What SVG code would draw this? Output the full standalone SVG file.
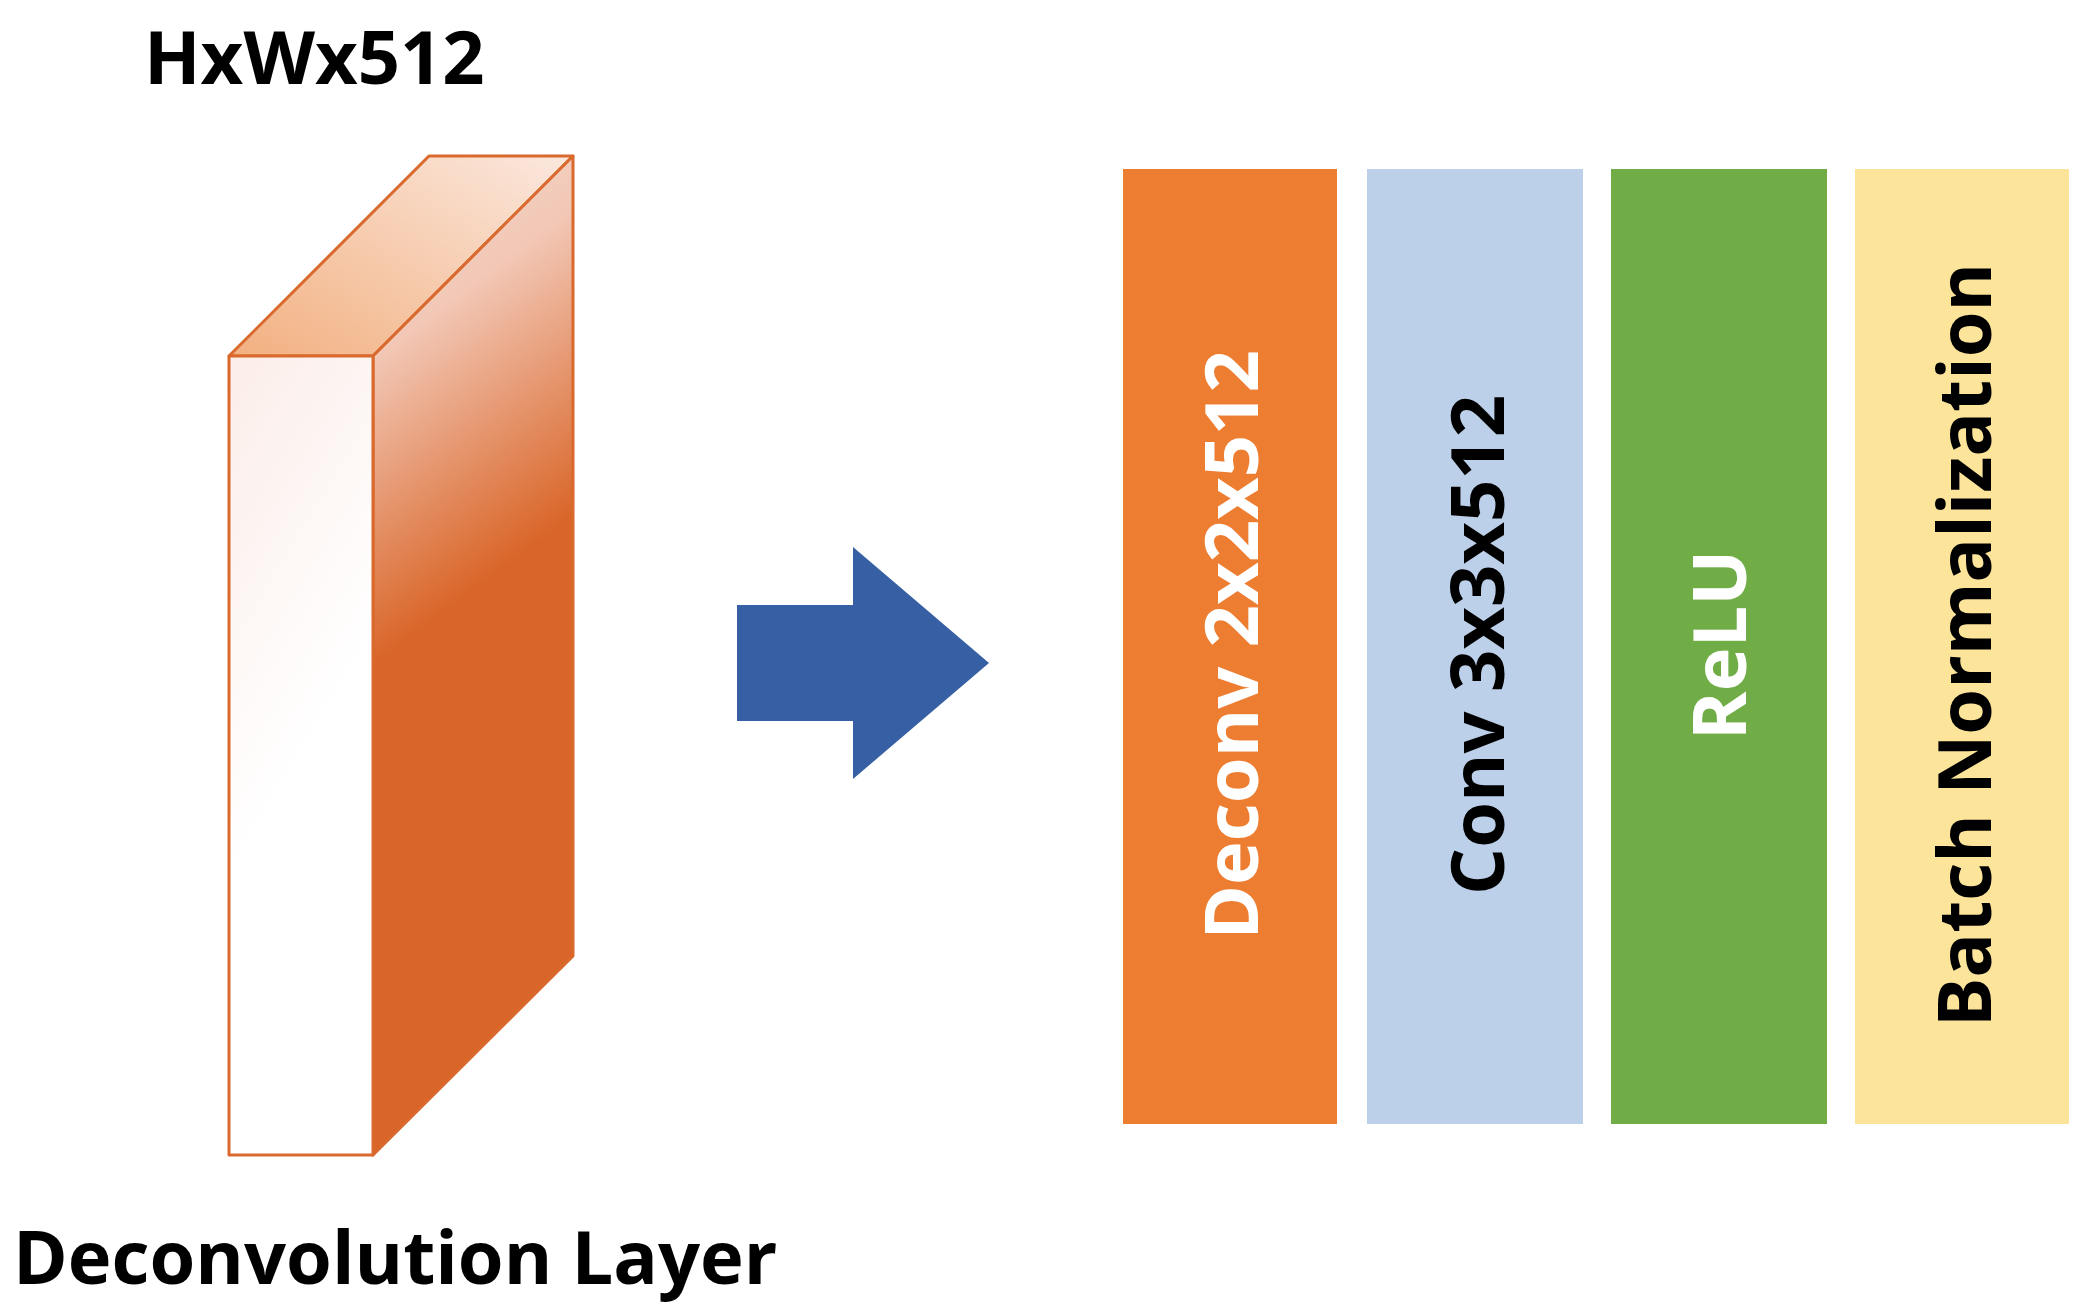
<svg xmlns="http://www.w3.org/2000/svg" width="2080" height="1310" viewBox="0 0 2080 1310">
<style>
.t{font-family:"Open Sans","Noto Sans","Liberation Sans",sans-serif;font-weight:bold;font-size:74px}
.v{text-anchor:middle;dominant-baseline:central}
.e{stroke:#D9692C;stroke-width:3;stroke-linejoin:round}
</style>
<defs>
<linearGradient id="side" x1="0" y1="0" x2="0.15" y2="1">
<stop offset="0" stop-color="#F8DDD2"/><stop offset="0.2" stop-color="#F2C7B5"/><stop offset="0.5" stop-color="#D96528"/><stop offset="1" stop-color="#D96528"/>
</linearGradient>
<linearGradient id="front" x1="0" y1="0" x2="0.3" y2="1">
<stop offset="0" stop-color="#FBEDE8"/><stop offset="0.6" stop-color="#FFFFFF"/>
</linearGradient>
<linearGradient id="top" x1="0" y1="1" x2="1" y2="0">
<stop offset="0" stop-color="#F2B080"/><stop offset="1" stop-color="#FBE8DE"/>
</linearGradient>
</defs>
<rect width="2080" height="1310" fill="#fff"/>
<text class="t" x="144" y="84">HxWx512</text>
<g id="layer">
<polygon class="e" points="229,356 429,156 573,156 373,356" fill="url(#top)"/>
<polygon class="e" points="373,356 573,156 573,956 373,1155" fill="url(#side)"/>
<rect class="e" x="229" y="356" width="144" height="799" fill="url(#front)"/>
</g>
<text class="t" x="13" y="1284">Deconvolution Layer</text>
<g id="connectors">
<polygon points="737,605 853,605 853,547 989,663 853,779 853,721 737,721" fill="#3760A4"/>
</g>
<g id="deconv"><rect x="1123" y="169" width="214" height="955" fill="#ED7D31"/>
<text class="t v" transform="translate(1229,645) rotate(-90)" fill="#fff">Deconv 2x2x512</text></g>
<g id="conv"><rect x="1367" y="169" width="216" height="955" fill="#BDD0EA"/>
<text class="t v" transform="translate(1475,645) rotate(-90)" fill="#000">Conv 3x3x512</text></g>
<g id="relu"><rect x="1611" y="169" width="216" height="955" fill="#70AD47"/>
<text class="t v" transform="translate(1717,645) rotate(-90)" fill="#fff">ReLU</text></g>
<g id="bn"><rect x="1855" y="169" width="214" height="955" fill="#FCE59A"/>
<text class="t v" transform="translate(1962,645) rotate(-90)" fill="#000">Batch Normalization</text></g>
</svg>
